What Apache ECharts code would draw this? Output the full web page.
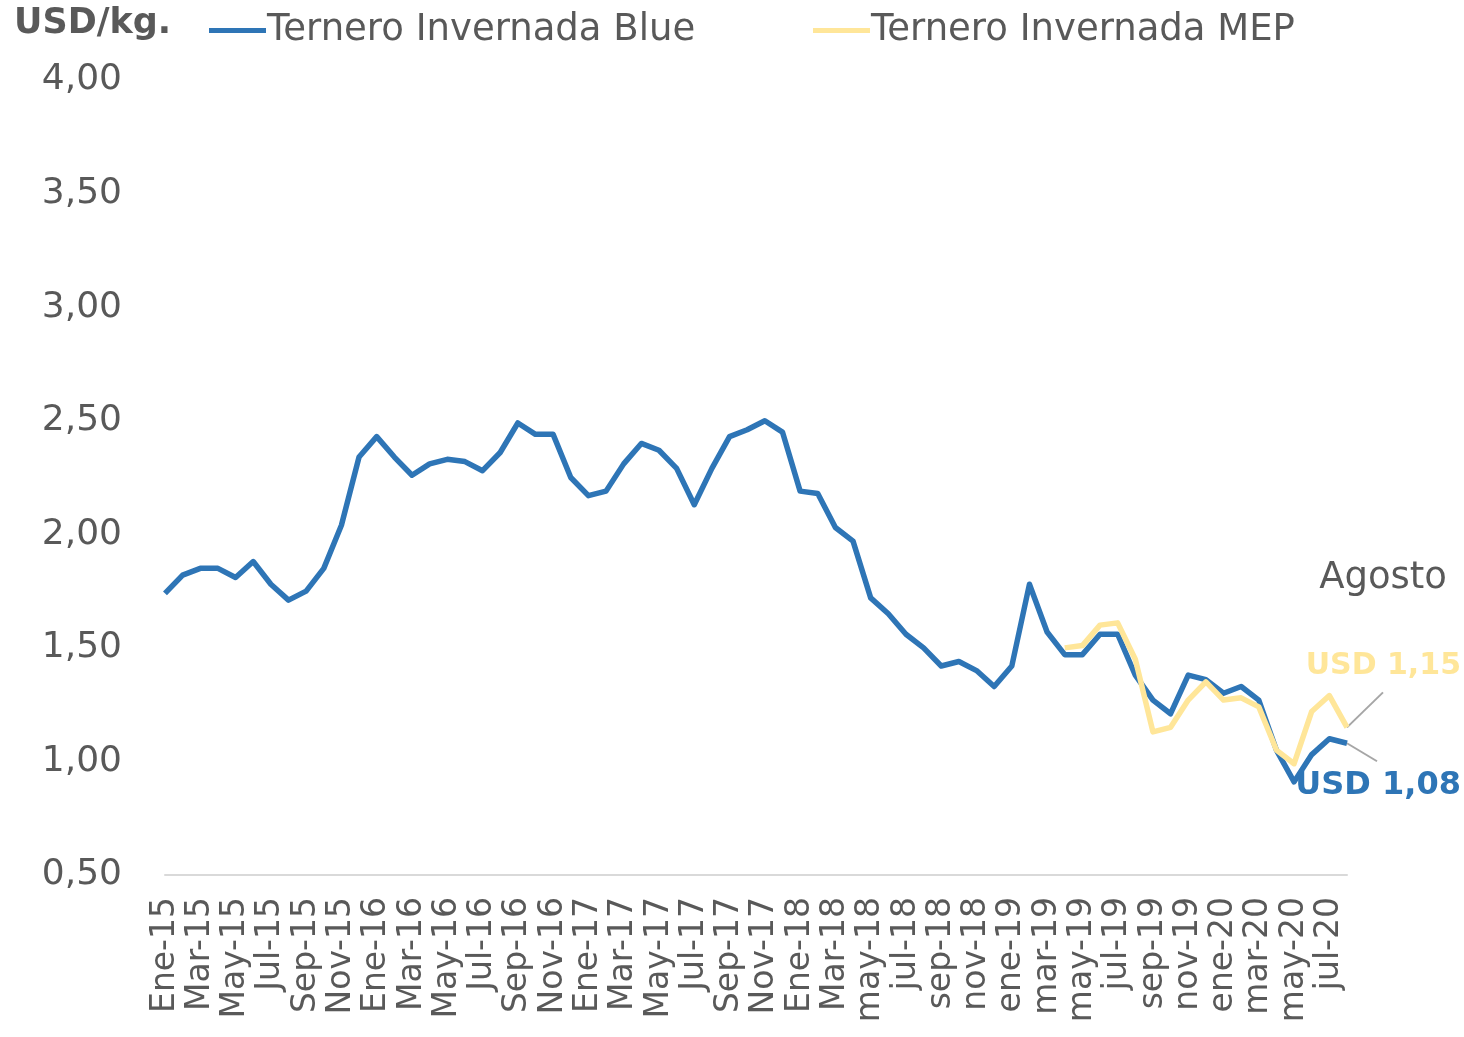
<!DOCTYPE html>
<html>
<head>
<meta charset="utf-8">
<script src="https://cdn.jsdelivr.net/npm/echarts@6/dist/echarts.min.js"></script>
<style>
  html, body { margin: 0; padding: 0; background: #fff; }
  #chart { width: 1464px; height: 1037px; }
</style>
</head>
<body>
<div id="chart"></div>
<script>
const months = [
  'Ene-15','Feb-15','Mar-15','Abr-15','May-15','Jun-15','Jul-15','Ago-15','Sep-15','Oct-15','Nov-15','Dic-15',
  'Ene-16','Feb-16','Mar-16','Abr-16','May-16','Jun-16','Jul-16','Ago-16','Sep-16','Oct-16','Nov-16','Dic-16',
  'Ene-17','Feb-17','Mar-17','Abr-17','May-17','Jun-17','Jul-17','Ago-17','Sep-17','Oct-17','Nov-17','Dic-17',
  'Ene-18','Feb-18','Mar-18','abr-18','may-18','jun-18','jul-18','ago-18','sep-18','oct-18','nov-18','dic-18',
  'ene-19','feb-19','mar-19','abr-19','may-19','jun-19','jul-19','ago-19','sep-19','oct-19','nov-19','dic-19',
  'ene-20','feb-20','mar-20','abr-20','may-20','jun-20','jul-20','ago-20'
]

// Ternero Invernada Blue (USD/kg)
const blue = [
  1.74, 1.82, 1.85, 1.85, 1.81, 1.88, 1.78, 1.71, 1.75, 1.85, 2.04, 2.34,
  2.43, 2.34, 2.26, 2.31, 2.33, 2.32, 2.28, 2.36, 2.49, 2.44, 2.44, 2.25,
  2.17, 2.19, 2.31, 2.40, 2.37, 2.29, 2.13, 2.29, 2.43, 2.46, 2.50, 2.45,
  2.19, 2.18, 2.03, 1.97, 1.72, 1.65, 1.56, 1.50, 1.42, 1.44, 1.40, 1.33,
  1.42, 1.78, 1.57, 1.47, 1.47, 1.56, 1.56, 1.38, 1.27, 1.21, 1.38, 1.36,
  1.30, 1.33, 1.27, 1.05, 0.91, 1.03, 1.10, 1.08
]

// Ternero Invernada MEP (USD/kg), desde mar-19
const mep = [
  null, null, null, null, null, null, null, null, null, null, null, null,
  null, null, null, null, null, null, null, null, null, null, null, null,
  null, null, null, null, null, null, null, null, null, null, null, null,
  null, null, null, null, null, null, null, null, null, null, null, null,
  null, null, null, 1.50, 1.51, 1.60, 1.61, 1.45, 1.13, 1.15, 1.27, 1.35,
  1.27, 1.28, 1.24, 1.05, 0.99, 1.22, 1.29, 1.15
]

const yTicks = { min: 0.5, max: 4, interval: 0.5 }

const BLUE = '#2E75B6'
const YELLOW = '#FFE699'
const GREY = '#595959'
const FONT = 'DejaVu Sans'

const chart = echarts.init(document.getElementById('chart'))

const option = {
  animation: false,
  textStyle: { fontFamily: FONT },
  grid: { left: 165, right: 117, top: 80, bottom: 162, containLabel: false },
  legend: [
    {
      data: ['Ternero Invernada Blue'],
      left: 204, top: 7,
      icon: 'rect', itemWidth: 57, itemHeight: 5, itemGap: 0,
      textStyle: { color: GREY, fontSize: 37, fontFamily: FONT, padding: [0, 0, 0, -4] }
    },
    {
      data: ['Ternero Invernada MEP'],
      left: 808, top: 7,
      icon: 'rect', itemWidth: 57, itemHeight: 5, itemGap: 0,
      textStyle: { color: GREY, fontSize: 37, fontFamily: FONT, padding: [0, 0, 0, -4] }
    }
  ],
  xAxis: {
    type: 'category',
    data: months,
    boundaryGap: false,
    axisLine: { lineStyle: { color: '#D9D9D9', width: 2 } },
    axisTick: { show: false },
    axisLabel: {
      interval: 1,
      rotate: 90,
      margin: 22,
      color: GREY,
      fontSize: 33,
      fontFamily: FONT
    }
  },
  yAxis: {
    type: 'value',
    min: yTicks.min,
    max: yTicks.max,
    interval: yTicks.interval,
    axisLine: { show: false },
    axisTick: { show: false },
    splitLine: { show: false },
    axisLabel: {
      margin: 43,
      color: GREY,
      fontSize: 36,
      fontFamily: FONT,
      formatter: v => v.toFixed(2).replace('.', ',')
    }
  },
  series: [
    {
      name: 'Ternero Invernada Blue',
      type: 'line',
      data: blue,
      symbol: 'none',
      color: BLUE,
      lineStyle: { color: BLUE, width: 5.5, join: 'round' },
      z: 2
    },
    {
      name: 'Ternero Invernada MEP',
      type: 'line',
      data: mep,
      symbol: 'none',
      color: YELLOW,
      lineStyle: { color: YELLOW, width: 5.5, join: 'round' },
      z: 3
    }
  ]
}

chart.setOption(option)

// anotaciones del último dato (Agosto)
const last = months.length - 1
const pMep = chart.convertToPixel({ gridIndex: 0 }, [last, mep[last]])
const pBlue = chart.convertToPixel({ gridIndex: 0 }, [last, blue[last]])
const fmt = v => 'USD ' + v.toFixed(2).replace('.', ',')

chart.setOption({
  graphic: [
    {
      type: 'text', left: 14, top: 6,
      style: { text: 'USD/kg.', fill: GREY, font: 'bold 35px ' + FONT }
    },
    {
      type: 'text', x: 1447, y: 578,
      style: { text: 'Agosto', fill: GREY, font: '37px ' + FONT, align: 'right', verticalAlign: 'middle' }
    },
    {
      type: 'line',
      shape: { x1: pMep[0], y1: pMep[1], x2: pMep[0] + 36, y2: pMep[1] - 35 },
      style: { stroke: '#A6A6A6', lineWidth: 2 }
    },
    {
      type: 'line',
      shape: { x1: pBlue[0], y1: pBlue[1], x2: pBlue[0] + 30, y2: pBlue[1] + 18 },
      style: { stroke: '#A6A6A6', lineWidth: 2 }
    },
    {
      type: 'text', x: 1461, y: 666,
      style: { text: fmt(mep[last]), fill: YELLOW, font: 'bold 30px ' + FONT, align: 'right', verticalAlign: 'middle' }
    },
    {
      type: 'text', x: 1461, y: 786,
      style: { text: fmt(blue[last]), fill: BLUE, font: 'bold 32px ' + FONT, align: 'right', verticalAlign: 'middle' }
    }
  ]
})

window.addEventListener('resize', () => chart.resize())
</script>
</body>
</html>
